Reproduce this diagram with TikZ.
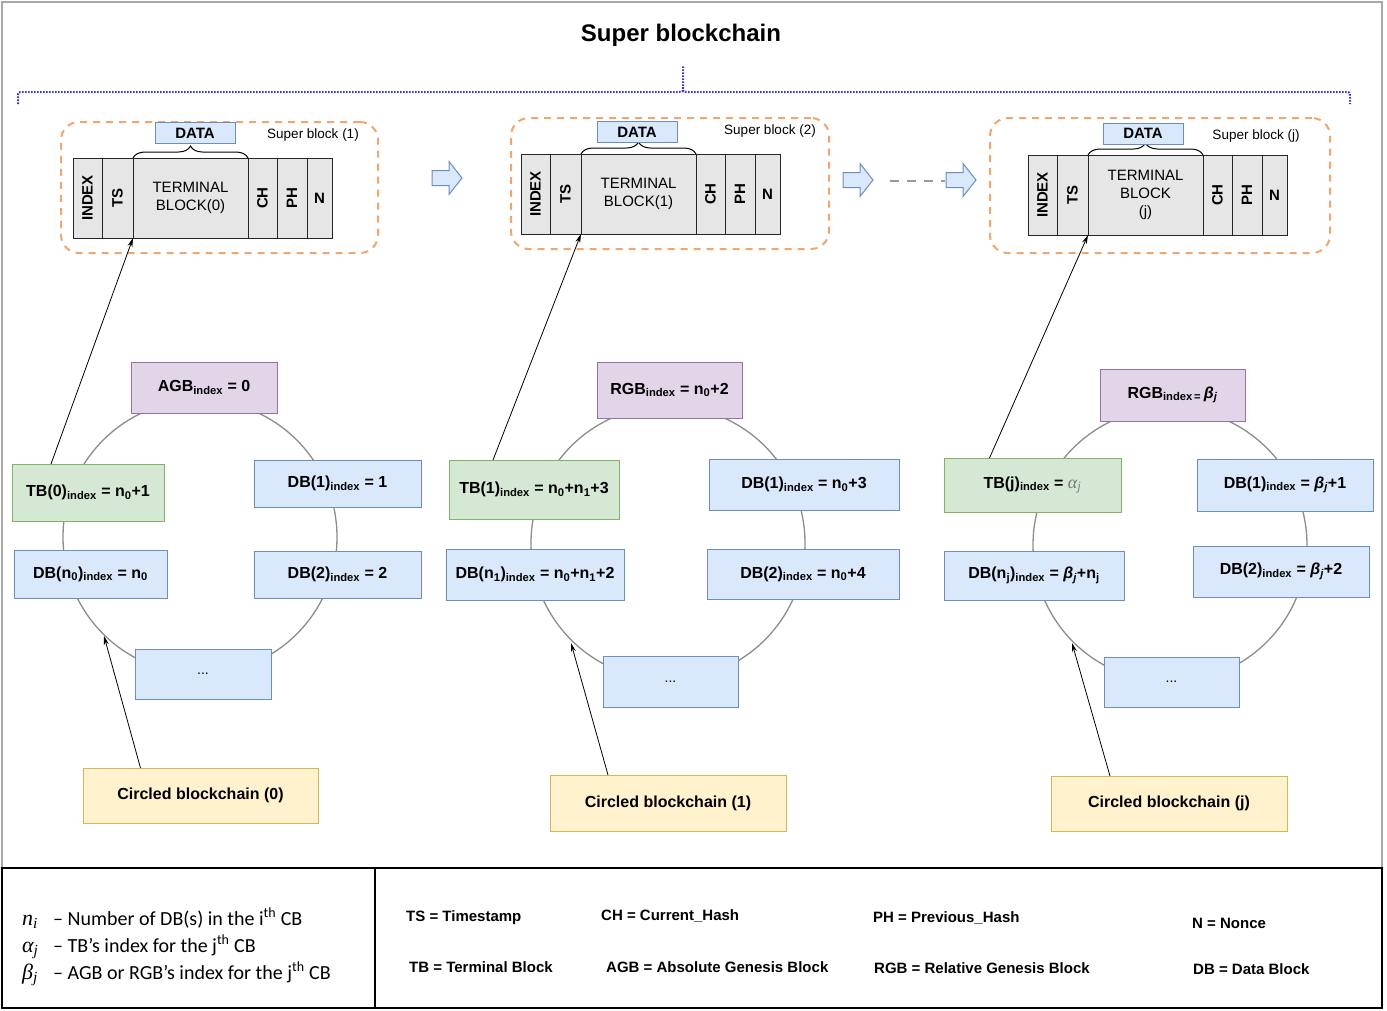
\documentclass[tikz,border=0pt]{standalone}
\usepackage{fontspec}
\setmainfont{Liberation Sans}
\newfontfamily\calfont{Carlito}
\newfontfamily\serfont{Liberation Serif}
\usepackage{graphicx}
\usetikzlibrary{decorations.pathreplacing,arrows.meta}
\newcommand\fs[2]{\fontsize{#1}{#2}\selectfont}
\newcommand\bj{{\itshape β}\textsubscript{\itshape j}}
\newcommand\symit[2]{{\serfont\itshape #1\textsubscript{#2}}}
\definecolor{pfill}{HTML}{E1D5E7}
\definecolor{pdraw}{HTML}{9673A6}
\definecolor{gfill}{HTML}{D5E8D4}
\definecolor{gdraw}{HTML}{82B366}
\definecolor{bfill}{HTML}{DAE8FC}
\definecolor{bdraw}{HTML}{6C8EBF}
\definecolor{yfill}{HTML}{FFF2CC}
\definecolor{ydraw}{HTML}{D6B656}
\definecolor{cellfill}{HTML}{E6E6E6}
\definecolor{sorange}{HTML}{F2A56C}
\definecolor{ringgray}{HTML}{8C8C8C}
\definecolor{framegray}{HTML}{A8A8A8}
\definecolor{bluedot}{HTML}{3535D8}
\definecolor{alphac}{HTML}{6E7F6E}
\tikzset{
 base/.style={draw, line width=1pt, inner sep=0pt, outer sep=0pt, align=center, font={\fs{16}{19}\bfseries}},
 dbbox/.style={base, fill=bfill, draw=bdraw},
 tbbox/.style={base, fill=gfill, draw=gdraw},
 gbbox/.style={base, fill=pfill, draw=pdraw},
 cbbox/.style={base, fill=yfill, draw=ydraw},
 cell/.style={draw=black!85, fill=cellfill, line width=1pt, inner sep=0pt, outer sep=0pt, minimum height=80pt, anchor=north west, font={\fs{15}{17}\bfseries}, align=center},
 databox/.style={base, fill=bfill, draw=bdraw, font={\fs{15}{18}\bfseries}, minimum width=80pt, minimum height=21pt},
 sbox/.style={draw=sorange, line width=2pt, dash pattern=on 7pt off 6pt, rounded corners=18pt, inner sep=0pt, anchor=north west},
 sblabel/.style={inner sep=0pt, font={\fs{13.5}{16}}},
 ring/.style={draw=ringgray, line width=1.3pt},
 arr/.style={-{Stealth[length=9pt,width=5pt]}, line width=0.8pt},
 barrow/.style={fill=bfill, draw=bdraw, line width=1pt},
 lg/.style={anchor=west, inner sep=0pt, font={\fs{15}{18}\bfseries}},
 lgl/.style={anchor=base west, inner sep=0pt, font={\calfont\fs{20}{24}}},
 lgs/.style={anchor=base west, inner sep=0pt, font={\fs{22}{26}}},
}
\newcommand\sblock[4]{%
 \node[cell, minimum width=29pt] (#1i) at (#2,#3) {\rotatebox{90}{INDEX}};
 \node[cell, minimum width=31pt] (#1t) at (#1i.north east) {\rotatebox{90}{TS}};
 \node[cell, minimum width=115pt, font={\fs{15}{18}}] (#1m) at (#1t.north east) {#4};
 \node[cell, minimum width=29pt] (#1c) at (#1m.north east) {\rotatebox{90}{CH}};
 \node[cell, minimum width=30pt] (#1p) at (#1c.north east) {\rotatebox{90}{PH}};
 \node[cell, minimum width=25pt] (#1n) at (#1p.north east) {N};
 \draw[decorate, decoration={brace, amplitude=12pt}, line width=1pt] (#1m.north west) -- (#1m.north east);
}
\newcommand\barr[2]{%
 \draw[barrow] (#1,#2) ++(0,-7.5) -- ++(17,0) -- ++(0,-9) -- ++(13,16.5) -- ++(-13,16.5) -- ++(0,-9) -- ++(-17,0) -- cycle;
}
\begin{document}
\begin{tikzpicture}[x=1pt,y=-1pt]
\useasboundingbox (0,0) rectangle (1387,1010);
% frame
\draw[framegray, line width=1.5pt] (2,868) -- (2,2) -- (1382,2) -- (1382,868);
\draw[line width=1.2pt] (2,868) rectangle (1382,1008);
\draw[line width=1.2pt] (375,868) -- (375,1008);
% title
\node[inner sep=0pt, font={\fs{24}{28}\bfseries}] (title) at (681,35) {Super blockchain};
% blue dotted brace
\draw[bluedot, line width=2pt, dash pattern=on 1.6pt off 1.4pt]
 (18,104) -- (18,97) .. controls (18,92) .. (23,92) -- (678,92) .. controls (683,92) .. (683,87) -- (683,66);
\draw[bluedot, line width=2pt, dash pattern=on 1.6pt off 1.4pt]
 (683,87) .. controls (683,92) .. (688,92) -- (1345,92) .. controls (1350,92) .. (1350,97) -- (1350,104);
% super block containers
\node[sbox, minimum width=317pt, minimum height=131pt] (sb1) at (60,121) {};
\node[sbox, minimum width=318pt, minimum height=131pt] (sb2) at (510,117) {};
\node[sbox, minimum width=340pt, minimum height=135pt] (sbj) at (989,117) {};
\sblock{a}{73}{158}{TERMINAL\\BLOCK(0)}
\sblock{b}{521}{154}{TERMINAL\\BLOCK(1)}
\sblock{c}{1028}{155}{TERMINAL\\BLOCK\\(j)}
\node[databox] (da) at (195,133) {DATA};
\node[databox] (db) at (637,132) {DATA};
\node[databox] (dc) at (1143,133.5) {DATA};
\node[sblabel] (sl1) at (313,135) {Super block (1)};
\node[sblabel] (sl2) at (770,131) {Super block (2)};
\node[sblabel] (slj) at (1256,136) {Super block (j)};
% block arrows
\barr{432}{178}
\barr{843}{180}
\draw[gray!80, line width=2pt, dash pattern=on 9pt off 8pt] (890,181) -- (945,181);
\barr{946}{180}
% rings
\draw[ring] (200,537) circle[radius=137];
\draw[ring] (668,543) circle[radius=137];
\draw[ring] (1170,545) circle[radius=137];
% ring 1
\node[gbbox, minimum width=146pt, minimum height=51pt] (agb) at (204,387.5) {AGB\textsubscript{index} = 0};
\node[dbbox, minimum width=167pt, minimum height=47pt] (db1a) at (337.5,483.5) {DB(1)\textsubscript{index} = 1};
\node[dbbox, minimum width=167pt, minimum height=47pt] (db2a) at (337.5,574.5) {DB(2)\textsubscript{index} = 2};
\node[dbbox, minimum width=136pt, minimum height=50pt, font={\fs{14}{16}}] (dota) at (203,674) {...};
\node[dbbox, minimum width=153pt, minimum height=48pt] (dbna) at (90.5,574) {DB(n\textsubscript{0})\textsubscript{index} = n\textsubscript{0}};
\node[tbbox, minimum width=152pt, minimum height=57pt] (tb0) at (88,492.5) {TB(0)\textsubscript{index} = n\textsubscript{0}+1};
% ring 2
\node[gbbox, minimum width=145pt, minimum height=56pt] (rgb1) at (669.5,390) {RGB\textsubscript{index} = n\textsubscript{0}+2};
\node[tbbox, minimum width=170pt, minimum height=59pt] (tb1) at (534,489.5) {TB(1)\textsubscript{index} = n\textsubscript{0}+n\textsubscript{1}+3};
\node[dbbox, minimum width=178pt, minimum height=51pt] (dbnb) at (535,574.5) {DB(n\textsubscript{1})\textsubscript{index} = n\textsubscript{0}+n\textsubscript{1}+2};
\node[dbbox, minimum width=190pt, minimum height=51pt] (db1b) at (804,484.5) {DB(1)\textsubscript{index} = n\textsubscript{0}+3};
\node[dbbox, minimum width=192pt, minimum height=50pt] (db2b) at (803,574) {DB(2)\textsubscript{index} = n\textsubscript{0}+4};
\node[dbbox, minimum width=135pt, minimum height=51pt, font={\fs{14}{16}}] (dotb) at (670.5,681.5) {...};
% ring j
\node[gbbox, minimum width=145pt, minimum height=52pt] (rgbj) at (1172.5,395) {RGB\textsubscript{index\,=}\,\bj};
\node[tbbox, minimum width=177pt, minimum height=54pt] (tbj) at (1032.5,485) {TB(j)\textsubscript{index} = \textcolor{alphac}{\mdseries\fs{18}{20}\symit{α}{j}}};
\node[dbbox, minimum width=180pt, minimum height=49pt] (dbnj) at (1034,575.5) {DB(n\textsubscript{j})\textsubscript{index} = \bj+n\textsubscript{j}};
\node[dbbox, minimum width=176pt, minimum height=52pt] (db1j) at (1285,485) {DB(1)\textsubscript{index} = \bj+1};
\node[dbbox, minimum width=176pt, minimum height=51pt] (db2j) at (1281,571.5) {DB(2)\textsubscript{index} = \bj+2};
\node[dbbox, minimum width=135pt, minimum height=50pt, font={\fs{14}{16}}] (dotj) at (1171.5,682) {...};
% circled blockchain boxes
\node[cbbox, minimum width=235pt, minimum height=55pt] (cb0) at (200.5,795.5) {Circled blockchain (0)};
\node[cbbox, minimum width=236pt, minimum height=56pt] (cb1) at (668,803) {Circled blockchain (1)};
\node[cbbox, minimum width=236pt, minimum height=55pt] (cbj) at (1169,803.5) {Circled blockchain (j)};
% arrows
\coordinate (h0) at (104,636);
\coordinate (h1) at (571,643);
\coordinate (hj) at (1072,643);
\draw[arr] ([xshift=-60pt]cb0.north) -- (h0);
\draw[arr] ([xshift=-60pt]cb1.north) -- (h1);
\draw[arr] ([xshift=-59pt]cbj.north) -- (hj);
\draw[arr] ([xshift=-37pt]tb0.north) -- (am.south west);
\draw[arr] ([xshift=-41pt]tb1.north) -- (bm.south west);
\draw[arr] ([xshift=-43pt]tbj.north) -- (cm.south west);
% legend left
\node[lgs] (s1) at (22,925) {\symit{n}{i}};
\node[lgl] (t1) at (53,925) {– Number of DB(s) in the i\textsuperscript{th} CB};
\node[lgs] (s2) at (22,952) {\symit{α}{j}};
\node[lgl] (t2) at (53,952) {– TB’s index for the j\textsuperscript{th} CB};
\node[lgs] (s3) at (22,979) {\symit{β}{j}};
\node[lgl] (t3) at (53,979) {– AGB or RGB’s index for the j\textsuperscript{th} CB};
% legend right
\node[lg] (k1) at (406,918) {TS = Timestamp};
\node[lg] (k2) at (601,916) {CH = Current\_Hash};
\node[lg] (k3) at (873,918) {PH = Previous\_Hash};
\node[lg] (k4) at (1192,923) {N = Nonce};
\node[lg] (k5) at (409,967) {TB = Terminal Block};
\node[lg] (k6) at (606,967) {AGB = Absolute Genesis Block};
\node[lg] (k7) at (874,968) {RGB = Relative Genesis Block};
\node[lg] (k8) at (1193,969) {DB = Data Block};
\end{tikzpicture}
\end{document}
